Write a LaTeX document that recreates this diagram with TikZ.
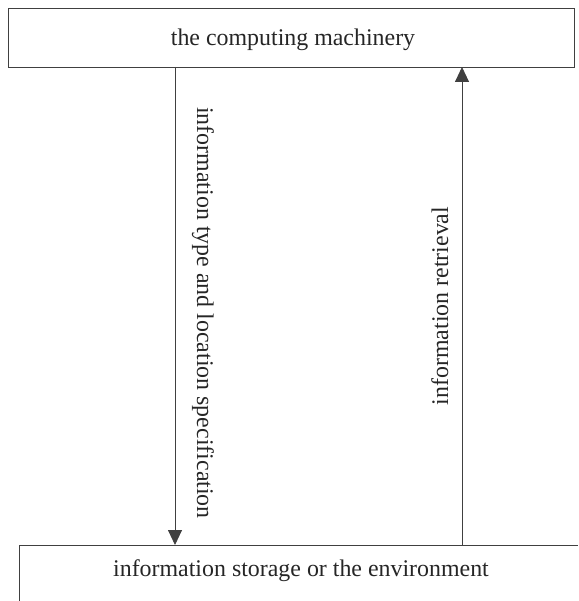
\documentclass[tikz,border=0pt]{standalone}
\usepackage{fontspec}
\setmainfont{Liberation Serif}
\usetikzlibrary{arrows.meta}
\begin{document}
\begin{tikzpicture}[x=1pt,y=-1pt,
  line/.style={draw=black!75, line width=0.9pt},
  lbl/.style={font=\fontsize{23.9}{28}\selectfont, text=black!85, inner sep=0pt},
  tip/.style={-{Triangle[length=15pt,width=14pt]}}]
\useasboundingbox (0,0) rectangle (578,601);
% top box
\node[line, minimum width=566pt, minimum height=59pt, inner sep=0pt, anchor=north west] (top) at (8,8) {};
\node[lbl, anchor=base] (toptext) at (293,46) {the computing machinery};
% bottom (open) box
\coordinate (bl) at (19,601);
\coordinate (btl) at (19,545);
\coordinate (btr) at (578,545);
\draw[line] (bl) -- (btl) -- (btr);
\node[lbl, anchor=base] (bottext) at (301,576) {information storage or the environment};
% arrows
\coordinate (a1s) at (175,67);
\coordinate (a1e) at (175,545);
\coordinate (a2s) at (462,545);
\coordinate (a2e) at (462,67);
\draw[line, tip] (a1s) -- (a1e);
\draw[line, tip] (a2s) -- (a2e);
% labels
\node[lbl, rotate=-90, anchor=base] (l1) at (197,313) {information type and location specification};
\node[lbl, rotate=90, anchor=base] (l2) at (448,306) {information retrieval};
\end{tikzpicture}
\end{document}
